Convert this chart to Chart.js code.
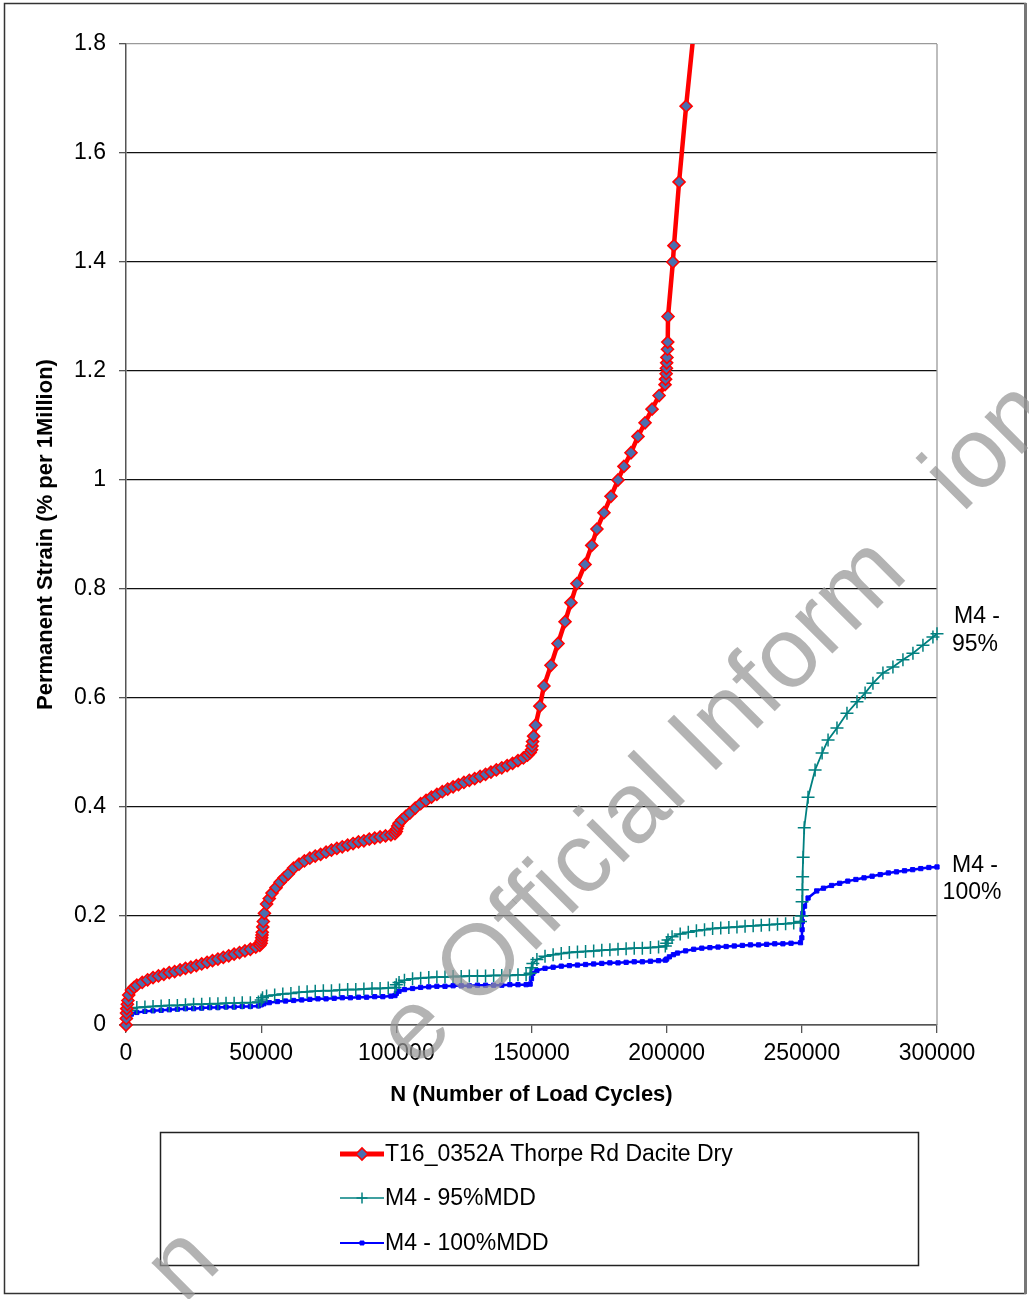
<!DOCTYPE html>
<html>
<head>
<meta charset="utf-8">
<script src="https://cdn.jsdelivr.net/npm/chart.js@4.4.0/dist/chart.umd.min.js"></script>
<style>
html,body{margin:0;padding:0;background:#fff;}
#wrap{position:relative;width:1029px;height:1299px;}
</style>
</head>
<body>
<div id="wrap"><canvas id="c" width="1029" height="1299"></canvas></div>
<script>
// ---------- data ----------
const xTickValues = [0, 50000, 100000, 150000, 200000, 250000, 300000];
const yTickValues = [0, 0.2, 0.4, 0.6, 0.8, 1, 1.2, 1.4, 1.6, 1.8];

const seriesNames = ['T16_0352A Thorpe Rd Dacite Dry', 'M4 - 95%MDD', 'M4 - 100%MDD'];
const endLabels95 = ['M4 -', '95%'];
const endLabels100 = ['M4 -', '100%'];
const watermarkTexts = ['e Official Inform', 'ion', 'n'];

const t16Cycles = [0,100,200,300,500,700,1000,2000,3000,4000,6000,8000,10000,12000,14000,16000,18000,20000,22000,24000,26000,28000,30000,32000,34000,36000,38000,40000,42000,44000,46000,48000,49500,
  50000,50100,50200,50300,50400,50600,50800,51200,52000,53000,54000,55500,57000,58500,60000,62000,64000,66000,68000,70000,72000,74000,76000,78000,80000,82000,84000,86000,88000,90000,92000,94000,96000,98000,99500,
  100000,100200,100500,101000,102000,103500,105000,107000,109000,111000,113000,115000,117000,119000,121000,123000,125000,127000,129000,131000,133000,135000,137000,139000,141000,143000,145000,147000,148500,149500,
  150000,150200,150400,150800,151500,153100,154600,157200,159800,162400,164600,166800,169800,172300,174200,176800,179400,182000,184200,186800,189400,192000,194600,197200,
  199400,199600,199800,199900,200000,200100,200300,200400,200500,202300,202700,204600,207200,211200];
const t16Strain = [0,0.012,0.022,0.03,0.038,0.045,0.055,0.064,0.069,0.073,0.078,0.083,0.087,0.09,0.093,0.096,0.098,0.101,0.104,0.106,0.109,0.112,0.115,0.118,0.121,0.124,0.127,0.13,0.133,0.136,0.139,0.143,0.146,
  0.15,0.155,0.16,0.165,0.17,0.18,0.19,0.205,0.222,0.232,0.242,0.252,0.262,0.27,0.277,0.288,0.295,0.301,0.306,0.31,0.313,0.317,0.321,0.324,0.327,0.33,0.333,0.336,0.338,0.341,0.343,0.345,0.347,0.349,0.351,
  0.355,0.36,0.365,0.37,0.376,0.383,0.389,0.398,0.406,0.412,0.418,0.423,0.428,0.433,0.437,0.441,0.445,0.449,0.452,0.456,0.46,0.464,0.468,0.472,0.476,0.48,0.485,0.49,0.495,0.5,
  0.505,0.512,0.52,0.53,0.55,0.585,0.622,0.66,0.7,0.74,0.775,0.81,0.845,0.88,0.91,0.94,0.97,1.0,1.025,1.05,1.08,1.105,1.13,1.155,
  1.175,1.185,1.195,1.205,1.215,1.225,1.24,1.253,1.3,1.4,1.43,1.547,1.686,1.88];

const m95Cycles = [0,200,500,1000,2000,4000,7000,10000,13000,16000,19000,22000,25000,28000,31000,34000,37000,40000,43000,46000,49000,
  50000,50500,52000,55000,58000,61000,64000,67000,70000,73000,76000,79000,82000,85000,88000,91000,94000,97000,99500,
  100000,101000,103000,106000,109000,112000,115000,118000,121000,124000,127000,130000,133000,136000,139000,142000,145000,148000,149500,
  150000,150500,152000,155000,158000,161000,164000,167000,170000,173000,176000,179000,182000,185000,188000,191000,194000,197000,199500,
  200000,200500,202000,205000,208000,211000,214000,217000,220000,223000,226000,229000,232000,235000,238000,241000,244000,247000,249500,
  250000,250100,250200,250300,250500,250900,252300,254900,257500,259700,263000,266700,270400,273400,276300,280000,283700,287400,291100,294800,298500,300000];
const m95Strain = [0,0.012,0.02,0.026,0.03,0.032,0.033,0.034,0.035,0.036,0.036,0.037,0.038,0.038,0.039,0.039,0.04,0.04,0.041,0.041,0.042,
  0.046,0.05,0.053,0.055,0.057,0.058,0.06,0.061,0.062,0.063,0.063,0.064,0.065,0.065,0.066,0.067,0.067,0.068,0.069,
  0.074,0.078,0.082,0.085,0.086,0.087,0.088,0.088,0.089,0.089,0.09,0.09,0.09,0.091,0.091,0.091,0.092,0.092,0.095,
  0.105,0.113,0.12,0.126,0.129,0.131,0.133,0.134,0.135,0.136,0.137,0.138,0.139,0.14,0.141,0.141,0.142,0.143,0.145,
  0.15,0.156,0.162,0.167,0.17,0.173,0.175,0.177,0.178,0.179,0.18,0.181,0.182,0.183,0.184,0.185,0.186,0.187,0.19,
  0.2,0.226,0.248,0.272,0.308,0.362,0.418,0.468,0.499,0.523,0.545,0.572,0.593,0.609,0.627,0.646,0.657,0.67,0.682,0.697,0.712,0.718];

const m100Cycles = [0,200,500,1000,2000,4000,7000,10000,13000,16000,19000,22000,25000,28000,31000,34000,37000,40000,43000,46000,49000,
  50000,51000,53000,56000,59000,62000,65000,68000,71000,74000,77000,80000,83000,86000,89000,92000,95000,98000,99500,
  100000,101000,103000,106000,109000,112000,115000,118000,121000,124000,127000,130000,133000,136000,139000,142000,145000,148000,149500,
  150000,150500,152000,155000,158000,161000,164000,167000,170000,173000,176000,179000,182000,185000,188000,191000,194000,197000,199500,
  200000,201000,202500,204000,207000,210000,213000,216000,219000,222000,225000,228000,231000,234000,237000,240000,243000,246000,249500,
  250000,250100,250200,250400,251000,252300,255500,258000,261000,264000,267000,270000,273000,276000,279000,282000,285000,288000,291000,294000,297000,300000];
const m100Strain = [0,0.008,0.013,0.017,0.02,0.023,0.025,0.026,0.027,0.028,0.029,0.03,0.03,0.031,0.032,0.032,0.033,0.033,0.034,0.034,0.035,
  0.037,0.039,0.041,0.043,0.044,0.045,0.046,0.047,0.048,0.048,0.049,0.05,0.05,0.051,0.051,0.052,0.052,0.053,0.054,
  0.058,0.062,0.065,0.067,0.069,0.07,0.071,0.071,0.072,0.072,0.072,0.073,0.073,0.073,0.073,0.074,0.074,0.074,0.075,
  0.085,0.095,0.1,0.104,0.106,0.108,0.109,0.11,0.111,0.112,0.113,0.114,0.114,0.115,0.116,0.116,0.117,0.118,0.119,
  0.121,0.125,0.129,0.132,0.136,0.139,0.141,0.142,0.143,0.144,0.145,0.146,0.147,0.147,0.148,0.149,0.149,0.15,0.151,
  0.16,0.175,0.19,0.205,0.218,0.233,0.246,0.251,0.256,0.26,0.264,0.267,0.27,0.273,0.276,0.279,0.281,0.283,0.285,0.287,0.289,0.29];

// ---------- build ----------
const toPts = (xs, ys) => xs.map((x, i) => ({x: x, y: ys[i]}));
const FONT = "'Liberation Sans', Arial, sans-serif";

const redStyle = {pointStyle: 'rectRot', radius: 6, fill: '#4A6FAF', stroke: '#FF0000', line: '#FF0000', lineWidth: 4.5, pbw: 1.6};
const tealStyle = {pointStyle: 'cross', radius: 6.5, fill: '#008080', stroke: '#008080', line: '#008080', lineWidth: 1.8, pbw: 1.5};
const blueStyle = {pointStyle: 'rect', radius: 3, fill: '#0000FF', stroke: '#0000FF', line: '#0000FF', lineWidth: 2.5, pbw: 1};

const decor = {
  id: 'decor',
  beforeDraw(chart) {
    const ctx = chart.ctx;
    ctx.save();
    ctx.fillStyle = '#fff';
    ctx.fillRect(0, 0, chart.width, chart.height);
    ctx.restore();
  },
  beforeDatasetsDraw(chart) {
    const ctx = chart.ctx, a = chart.chartArea;
    ctx.save();
    ctx.strokeStyle = '#9a9a9a';
    ctx.lineWidth = 1.3;
    ctx.beginPath();
    ctx.moveTo(a.right, a.top);
    ctx.lineTo(a.right, a.bottom);
    ctx.stroke();
    ctx.restore();
  },
  afterDraw(chart) {
    const ctx = chart.ctx;
    ctx.save();
    // end labels
    ctx.fillStyle = '#000';
    ctx.font = '23px ' + FONT;
    ctx.textAlign = 'center';
    ctx.textBaseline = 'middle';
    const p95 = chart.getDatasetMeta(1).data[m95Cycles.length - 1];
    ctx.fillText(endLabels95[0], p95.x + 40, p95.y - 17);
    ctx.fillText(endLabels95[1], p95.x + 38, p95.y + 11);
    const p100 = chart.getDatasetMeta(2).data[m100Cycles.length - 1];
    ctx.fillText(endLabels100[0], p100.x + 38, p100.y - 1);
    ctx.fillText(endLabels100[1], p100.x + 35, p100.y + 26);

    // legend box
    ctx.strokeStyle = '#222';
    ctx.lineWidth = 1.5;
    ctx.strokeRect(160.5, 1132.5, 758, 133);
    const rows = [1154, 1198, 1243];
    const styles = [redStyle, tealStyle, blueStyle];
    styles.forEach((s, i) => {
      const y = rows[i];
      ctx.strokeStyle = s.line;
      ctx.lineWidth = i === 0 ? 5 : (i === 1 ? 1.4 : 2);
      ctx.beginPath();
      ctx.moveTo(340, y);
      ctx.lineTo(384, y);
      ctx.stroke();
      ctx.fillStyle = s.fill;
      ctx.strokeStyle = s.stroke;
      ctx.lineWidth = s.pbw;
      Chart.helpers.drawPoint(ctx, {pointStyle: s.pointStyle, radius: i === 0 ? 6 : (i === 1 ? 5.5 : 2.8), borderWidth: s.pbw, rotation: 0}, 362, y);
      ctx.fillStyle = '#000';
      ctx.font = '23px ' + FONT;
      ctx.textAlign = 'left';
      ctx.textBaseline = 'middle';
      ctx.fillText(seriesNames[i], 385, y + 1);
    });

    // outer frame
    ctx.strokeStyle = '#333';
    ctx.lineWidth = 1.5;
    ctx.strokeRect(4.5, 3.5, 1021, 1290);
    ctx.strokeStyle = '#777';
    ctx.lineWidth = 3;
    ctx.beginPath();
    ctx.moveTo(1025.5, 3);
    ctx.lineTo(1025.5, 1294);
    ctx.stroke();

    // watermark
    ctx.fillStyle = 'rgba(150,150,150,0.72)';
    ctx.font = '100px ' + FONT;
    ctx.textAlign = 'left';
    ctx.textBaseline = 'alphabetic';
    const wm = [[watermarkTexts[0], 416, 1070], [watermarkTexts[1], 962, 514], [watermarkTexts[2], 184, 1305]];
    wm.forEach(w => {
      ctx.save();
      ctx.translate(w[1], w[2]);
      ctx.rotate(-Math.PI / 4);
      ctx.fillText(w[0], 0, 0);
      ctx.restore();
    });
    ctx.restore();
  }
};

const mkDs = (label, pts, s, order, clip) => ({
  label: label,
  data: pts,
  showLine: true,
  tension: 0,
  borderColor: s.line,
  borderWidth: s.lineWidth,
  pointStyle: s.pointStyle,
  pointRadius: s.radius,
  pointHoverRadius: s.radius,
  pointBackgroundColor: s.fill,
  pointBorderColor: s.stroke,
  pointBorderWidth: s.pbw,
  order: order,
  clip: clip
});

new Chart(document.getElementById('c'), {
  type: 'scatter',
  data: {
    datasets: [
      mkDs(seriesNames[0], toPts(t16Cycles, t16Strain), redStyle, 0, {left: 20, top: 0, right: 20, bottom: 20}),
      mkDs(seriesNames[1], toPts(m95Cycles, m95Strain), tealStyle, 1, {left: 20, top: 0, right: 20, bottom: 20}),
      mkDs(seriesNames[2], toPts(m100Cycles, m100Strain), blueStyle, 2, {left: 20, top: 0, right: 20, bottom: 20})
    ]
  },
  options: {
    responsive: false,
    animation: false,
    devicePixelRatio: 1,
    layout: {padding: {left: 0, top: 44, right: 92, bottom: 184}},
    plugins: {legend: {display: false}, tooltip: {enabled: false}, title: {display: false}},
    scales: {
      x: {
        type: 'linear',
        min: 0,
        max: 300000,
        afterBuildTicks: (s) => { s.ticks = xTickValues.map(v => ({value: v})); },
        afterFit: (s) => { s.height = 90; },
        ticks: {
          font: {family: FONT, size: 23},
          color: '#000',
          padding: 7,
          maxRotation: 0,
          autoSkip: false,
          callback: (v) => String(v)
        },
        grid: {drawOnChartArea: false, drawTicks: true, tickLength: 8, color: '#555', lineWidth: 1.3},
        border: {display: true, color: '#555', width: 1.5},
        title: {
          display: true,
          text: 'N (Number of Load Cycles)',
          color: '#000',
          font: {family: FONT, size: 22, weight: 'bold'},
          padding: {top: 0, bottom: 7}
        }
      },
      y: {
        type: 'linear',
        min: 0,
        max: 1.8,
        afterBuildTicks: (s) => { s.ticks = yTickValues.map(v => ({value: v})); },
        afterFit: (s) => { s.width = 126; },
        ticks: {
          font: {family: FONT, size: 23},
          color: '#000',
          padding: 13,
          autoSkip: false,
          callback: (v) => String(Math.round(v * 10) / 10)
        },
        grid: {
          color: (c) => (c.tick && Math.abs(c.tick.value - 1.8) < 1e-9) ? '#9a9a9a' : '#111',
          lineWidth: 1.3,
          tickColor: '#555',
          tickLength: 7
        },
        border: {display: true, color: '#555', width: 1.5},
        title: {
          display: true,
          text: 'Permanent Strain (% per 1Million)',
          color: '#000',
          font: {family: FONT, size: 22, weight: 'bold'},
          padding: {top: 33, bottom: 0}
        }
      }
    }
  },
  plugins: [decor]
});
</script>
</body>
</html>
